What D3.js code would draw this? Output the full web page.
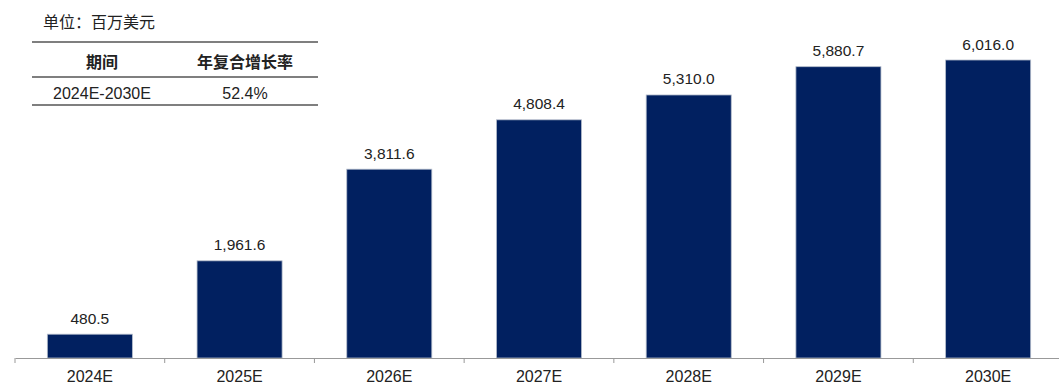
<!DOCTYPE html>
<html><head><meta charset="utf-8">
<script src="https://cdn.jsdelivr.net/npm/d3@7"></script>
<style>body{margin:0;background:#fff}svg{display:block;font-family:"Liberation Sans",Arial,"Noto Sans CJK SC",sans-serif}</style>
</head><body><svg id="c" width="1059" height="385"></svg>
<script>
const categories = ["2024E","2025E","2026E","2027E","2028E","2029E","2030E"];
const values = [480.5,1961.6,3811.6,4808.4,5310.0,5880.7,6016.0];
const unitLabel = "单位：百万美元";
const tableHeader = ["期间","年复合增长率"];
const tableRow = ["2024E-2030E","52.4%"];

const svg = d3.select("#c");
const x = d3.scaleBand().domain(categories).range([15,1063]).paddingInner(0.432).paddingOuter(0.216);
const y = d3.scaleLinear().domain([0,6016]).range([358,60]);

svg.selectAll("rect.bar").data(values).enter().append("rect")
  .attr("class","bar")
  .attr("x",(d,i)=>x(categories[i]))
  .attr("width",x.bandwidth())
  .attr("y",d=>y(d))
  .attr("height",d=>y(0)-y(d))
  .attr("fill","#012060")
  .attr("stroke","#b4bccb").attr("stroke-width",0.8);

svg.selectAll("text.val").data(values).enter().append("text")
  .attr("class","val")
  .attr("x",(d,i)=>x(categories[i])+x.bandwidth()/2)
  .attr("y",d=>y(d)-10.5)
  .attr("text-anchor","middle").attr("font-size",15.5).attr("fill","#222")
  .text(d=>d3.format(",.1f")(d));

// axis
const xStep = d3.scaleBand().domain(categories).range([15,1063]);
const ax = svg.append("g").attr("transform","translate(0,358)")
  .call(d3.axisBottom(xStep).tickSize(0).tickPadding(0));
ax.select(".domain").attr("stroke","#999").attr("stroke-width",1.2);
ax.selectAll("text").attr("font-size",16).attr("fill","#222").attr("dy",null).attr("y",23.5)
  .attr("font-family","Liberation Sans, Arial, sans-serif");
const tickPos = categories.map(c=>xStep(c));
svg.selectAll("line.tk").data(tickPos).enter().append("line")
  .attr("x1",d=>d).attr("x2",d=>d).attr("y1",358).attr("y2",363)
  .attr("stroke","#999").attr("stroke-width",1);

// table
svg.append("text").attr("x",43).attr("y",28).attr("font-size",16).attr("fill","#222")
  .attr("font-family","Noto Sans CJK SC, sans-serif").text(unitLabel);
[42,77,105].forEach(yy=>svg.append("line").attr("x1",32).attr("x2",318).attr("y1",yy).attr("y2",yy)
  .attr("stroke","#555").attr("stroke-width",1.5));
const cols=[102,245];
tableHeader.forEach((t,i)=>svg.append("text").attr("x",cols[i]).attr("y",68).attr("text-anchor","middle")
  .attr("font-size",16).attr("font-weight","bold").attr("fill","#222")
  .attr("font-family","Noto Sans CJK SC, sans-serif").text(t));
tableRow.forEach((t,i)=>svg.append("text").attr("x",cols[i]).attr("y",99).attr("text-anchor","middle")
  .attr("font-size",16).attr("fill","#222").text(t));
</script></body></html>
